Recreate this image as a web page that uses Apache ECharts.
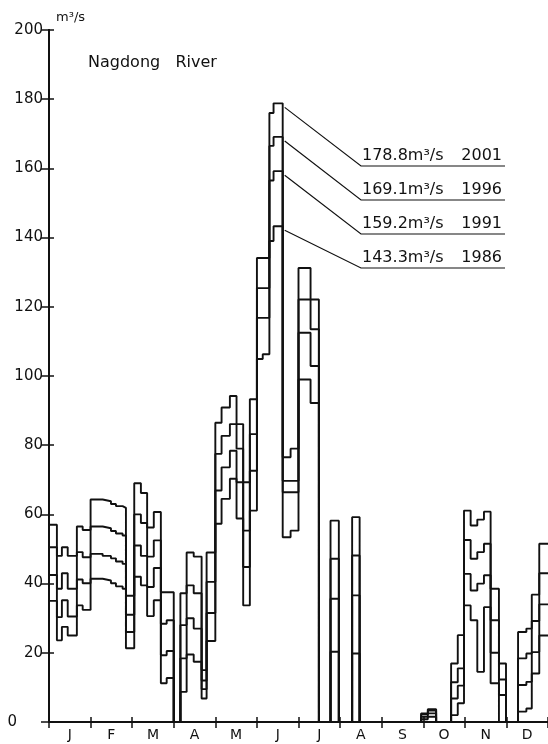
<!DOCTYPE html>
<html>
<head>
<meta charset="utf-8">
<script src="https://cdn.jsdelivr.net/npm/echarts@6/dist/echarts.min.js"></script>
<style>
  html, body { margin: 0; padding: 0; background: #fff; }
  #chart { width: 548px; height: 744px; }
</style>
</head>
<body>
<div id="chart"></div>
<script>
// Month labels along the bottom
const months = ['J', 'F', 'M', 'A', 'M', 'J', 'J', 'A', 'S', 'O', 'N', 'D'];

// Period boundaries in months from 1 January (0 = start of Jan, 12 = end of Dec)
const bounds = [
  0, 0.19, 0.31, 0.45, 0.67, 0.81,
  1.0, 1.29, 1.49, 1.61, 1.77, 1.85,
  2.05, 2.21, 2.36, 2.52, 2.69, 2.83,
  3.0, 3.16, 3.31, 3.48, 3.67, 3.79,
  4.0, 4.15, 4.35, 4.51, 4.67, 4.83,
  5.0, 5.14, 5.30, 5.40, 5.62, 5.81,
  6.0, 6.29, 6.49, 6.77, 6.97, 7.29,
  7.47, 8.95, 9.11, 9.31, 9.67, 9.83,
  9.98, 10.14, 10.30, 10.46, 10.62, 10.82,
  10.99, 11.28, 11.48, 11.61, 11.79, 12.0
];

// Water demand (m3/s) for each period, one array per target year
const q2001 = [
  57, 48, 50.5, 48, 56.5, 55.5,
  64.3, 63.8, 63.0, 62.4, 61.9, 36.5,
  69, 66.2, 56.2, 60.7, 37.5, 37.5,
  0, 37.2, 49, 47.8, 15, 49,
  86.5, 90.9, 94.2, 86.1, 69.3, 93.3,
  134.1, 134.1, 176, 178.8, 76.5, 79,
  131.2, 122.1, 0, 58.2, 0, 59.2,
  0, 2.5, 3.7, 0, 16.9, 25.1,
  61.1, 56.8, 58.5, 60.8, 38.5, 16.9,
  0, 26, 27, 36.8, 51.5
];
const q1996 = [
  50.5, 38.5, 43, 38.5, 49.1, 47.6,
  56.5, 56.0, 55.2, 54.5, 53.9, 31,
  60, 57.5, 47.8, 52.5, 28.4, 29.4,
  0, 28, 39.5, 37.2, 12, 40.5,
  77.5, 82.7, 86.1, 79, 55.3, 83.2,
  125.4, 125.4, 166.5, 169.1, 69.7, 69.7,
  122.1, 113.5, 0, 47.2, 0, 48.1,
  0, 2.2, 3.3, 0, 11.5, 15.5,
  52.6, 47.2, 49.1, 51.5, 29.4, 12.3,
  0, 18.4, 19.8, 29.2, 43
];
const q1991 = [
  42.5, 30.3, 35.2, 30.5, 41.2, 40.1,
  48.6, 48.0, 47.3, 46.4, 45.7, 26,
  51, 48, 39, 44.5, 19.3, 20.5,
  0, 18.4, 30, 27, 9.5, 31.5,
  66.9, 73.6, 78.4, 69.3, 44.8, 72.6,
  116.8, 116.8, 156.5, 159.2, 66.4, 66.4,
  112.5, 102.9, 0, 35.6, 0, 36.6,
  0, 1.5, 2.5, 0, 6.8, 10.5,
  42.8, 38, 40, 42.4, 20, 7.8,
  0, 10.7, 11.6, 20.2, 34
];
const q1986 = [
  35, 23.6, 27.5, 25, 33.7, 32.4,
  41.4, 40.9, 40.1, 39.2, 38.5, 21.3,
  42, 39.5, 30.6, 35.2, 11.2, 12.7,
  0, 8.7, 19.5, 17.4, 6.8, 23.4,
  57.3, 64.5, 70.3, 58.8, 33.7, 61.1,
  104.9, 106.3, 139, 143.3, 53.4, 55.3,
  99, 92.2, 0, 20.3, 0, 19.8,
  0, 0.8, 1.5, 0, 2, 5.4,
  33.7, 29.4, 14.5, 33.2, 11.2, 0,
  0, 3, 3.9, 14, 25
];

const years = ['2001', '1996', '1991', '1986'];
const yearSeries = [q2001, q1996, q1991, q1986];

// Period holding the June peak that the call-outs point at
const peakIndex = 33;

const ink = '#111';
const font = 'DejaVu Sans';

// Step line points: each period starts at its left boundary, the last point closes the year
function stepPoints(values) {
  const pts = values.map((v, i) => [bounds[i], v]);
  pts.push([bounds[bounds.length - 1], values[values.length - 1]]);
  return pts;
}

const chart = echarts.init(document.getElementById('chart'), null, { renderer: 'canvas' });

const baseValueAxis = {
  type: 'value', min: 0, max: 12, interval: 1,
  axisLine: { show: true, lineStyle: { color: ink, width: 2 } },
  axisTick: { show: true, inside: true, length: 5, lineStyle: { color: ink, width: 1.5 } },
  axisLabel: { show: false },
  splitLine: { show: false }
};

chart.setOption({
  animation: false,
  backgroundColor: '#fff',
  grid: { left: 49, right: -5, top: 30, bottom: 22, containLabel: false },
  title: {
    text: 'Nagdong   River',
    left: 83, top: 50,
    textStyle: { fontFamily: font, fontSize: 16, fontWeight: 'normal', color: ink }
  },
  xAxis: [
    Object.assign({}, baseValueAxis, { position: 'bottom' }),
    Object.assign({}, baseValueAxis, { position: 'top', axisTick: { show: true, inside: true, length: 6, lineStyle: { color: ink, width: 1.5 } } }),
    {
      type: 'category', data: months, position: 'bottom', boundaryGap: true,
      axisLine: { show: false }, axisTick: { show: false }, splitLine: { show: false },
      axisLabel: { margin: 6, fontFamily: font, fontSize: 14, color: ink }
    }
  ],
  yAxis: [
    {
      type: 'value', min: 0, max: 200, interval: 20, position: 'left',
      name: 'm³/s', nameGap: 6,
      nameTextStyle: { fontFamily: font, fontSize: 13, color: ink, align: 'left', padding: [0, 0, 0, 7] },
      axisLine: { show: true, lineStyle: { color: ink, width: 2 } },
      axisTick: { show: true, inside: true, length: 5, lineStyle: { color: ink, width: 1.5 } },
      axisLabel: {
        margin: 6, fontFamily: font, fontSize: 15, color: ink,
        formatter: v => (v === 0 ? '{z|0}' : String(v)),
        rich: { z: { fontFamily: font, fontSize: 15, color: ink, padding: [0, 26, 0, 0] } }
      },
      splitLine: { show: false }
    },
    {
      type: 'value', min: 0, max: 200, interval: 20, position: 'right',
      axisLine: { show: true, lineStyle: { color: ink, width: 2 } },
      axisTick: { show: true, inside: true, length: 8, lineStyle: { color: ink, width: 1.5 } },
      axisLabel: { show: false },
      splitLine: { show: false }
    }
  ],
  series: yearSeries.map((vals, i) => ({
    name: years[i],
    type: 'line',
    step: 'end',
    xAxisIndex: 0,
    yAxisIndex: 0,
    symbol: 'none',
    lineStyle: { color: ink, width: 1.9 },
    data: stepPoints(vals),
    z: 3
  }))
});

// Call-outs: leader from the June peak of each year to an underlined value label
const elbowX = 361, lineEndX = 505;
const elbowY = [166, 200, 234, 268];
const graphics = [];
yearSeries.forEach((vals, i) => {
  const peak = vals[peakIndex];
  const p = chart.convertToPixel({ xAxisIndex: 0, yAxisIndex: 0 }, [bounds[peakIndex + 1], peak]);
  const sx = p[0] + 2, sy = p[1] + 4;
  graphics.push({
    type: 'polyline',
    shape: { points: [[sx, sy], [elbowX, elbowY[i]], [lineEndX, elbowY[i]]] },
    style: { stroke: ink, lineWidth: 1.2, fill: null },
    z: 10
  });
  graphics.push({
    type: 'text',
    x: elbowX + 1, y: elbowY[i] - 2,
    style: {
      text: peak.toFixed(1) + 'm³/s',
      font: '16px "DejaVu Sans"', fill: ink,
      textAlign: 'left', textVerticalAlign: 'bottom'
    },
    z: 10
  });
  graphics.push({
    type: 'text',
    x: lineEndX - 3, y: elbowY[i] - 2,
    style: {
      text: years[i],
      font: '16px "DejaVu Sans"', fill: ink,
      textAlign: 'right', textVerticalAlign: 'bottom'
    },
    z: 10
  });
});
chart.setOption({ graphic: graphics });
</script>
</body>
</html>
